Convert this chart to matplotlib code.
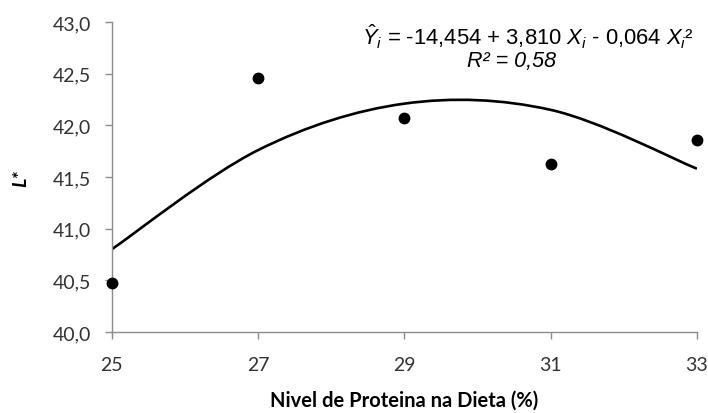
import matplotlib.pyplot as plt
from matplotlib.path import Path
from matplotlib.patches import PathPatch

# dados observados
proteina = [25, 27, 29, 31, 33]
l_star = [40.47, 42.46, 42.07, 41.63, 41.86]

# valores estimados pela regressao nos mesmos niveis
l_estimado = [40.80, 41.76, 42.21, 42.15, 41.58]

x_ticks = [25, 27, 29, 31, 33]
y_ticks = [40.0, 40.5, 41.0, 41.5, 42.0, 42.5, 43.0]

plt.rcParams['font.family'] = ['Lato', 'DejaVu Sans']
plt.rcParams['mathtext.fontset'] = 'custom'
plt.rcParams['mathtext.it'] = 'Liberation Sans:italic'
plt.rcParams['mathtext.rm'] = 'Liberation Sans'

fig = plt.figure(figsize=(7.08, 4.14), dpi=100)
ax = fig.add_axes([0.1578, 0.1957, 0.8266, 0.7487])


def smooth_path(xs, ys):
    # linha suavizada tipo Excel (bezier com tensao 1/6)
    pts = list(zip(xs, ys))
    n = len(pts)
    verts = [pts[0]]
    codes = [Path.MOVETO]
    for i in range(n - 1):
        p0 = pts[max(i - 1, 0)]
        p1 = pts[i]
        p2 = pts[i + 1]
        p3 = pts[min(i + 2, n - 1)]
        c1 = (p1[0] + (p2[0] - p0[0]) / 6, p1[1] + (p2[1] - p0[1]) / 6)
        c2 = (p2[0] - (p3[0] - p1[0]) / 6, p2[1] - (p3[1] - p1[1]) / 6)
        verts += [c1, c2, p2]
        codes += [Path.CURVE4] * 3
    return Path(verts, codes)


curve = PathPatch(smooth_path(proteina, l_estimado), facecolor='none',
                  edgecolor='black', linewidth=1.9, transform=ax.transData)
ax.add_patch(curve)

ax.plot(proteina, l_star, 'o', color='black', markersize=7.5, clip_on=False, zorder=5)

ax.set_xlim(25, 33)
ax.set_ylim(40, 43)
ax.set_xticks(x_ticks)
ax.set_yticks(y_ticks)
ax.set_yticklabels([f'{v:.1f}'.replace('.', ',') for v in y_ticks])

for s in ['top', 'right']:
    ax.spines[s].set_visible(False)
for s in ['left', 'bottom']:
    ax.spines[s].set_color('#8c8c8c')
    ax.spines[s].set_linewidth(1.0)
ax.tick_params(direction='out', length=5, width=1, color='#8c8c8c',
               labelsize=14, labelcolor='#333333')
ax.tick_params(axis='x', pad=12)
ax.tick_params(axis='y', pad=10)

ax.set_xlabel('Nivel de Proteina na Dieta (%)', fontsize=14.5, fontweight='bold',
              labelpad=12)
ax.set_ylabel('L*', fontsize=14, fontweight='bold', fontstyle='italic', labelpad=17)

fig.text(0.746, 0.910, r'$\hat{Y}_i$ = -14,454 + 3,810 $X_i$ - 0,064 $X_i$²',
         ha='center', va='center', fontsize=15.8, family='Liberation Sans')
fig.text(0.723, 0.852, 'R² = 0,58', ha='center', va='center', fontsize=15.5,
         family='Liberation Sans', fontstyle='italic')

fig.savefig('out.png', dpi=100)
